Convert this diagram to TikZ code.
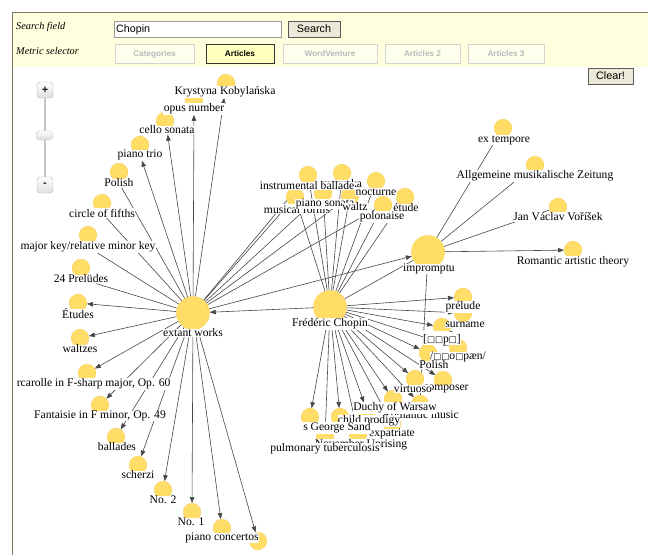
\documentclass[tikz,border=0pt]{standalone}
\usepackage{fontspec}
\setmainfont{Liberation Serif}
\newfontfamily\uisans{Liberation Sans}
\newfontfamily\symfnt{DejaVu Sans}
\usetikzlibrary{arrows.meta}
\pgfdeclarelayer{edges}
\pgfsetlayers{edges,main}
\definecolor{nodey}{RGB}{255,221,102}
\definecolor{nodeb}{RGB}{248,210,90}
\definecolor{edgec}{RGB}{70,70,70}
\definecolor{panel}{RGB}{255,255,221}
\definecolor{btnfill}{RGB}{236,233,216}
\definecolor{actfill}{RGB}{255,255,190}
\definecolor{framec}{RGB}{120,120,95}
\newcommand\labfont{\fontsize{11.6}{12}\selectfont}
\newcommand\tfbox{{\symfnt\fontsize{8.5}{9}\selectfont □}}
\newcommand\tfboxt{\leavevmode\rlap{\raisebox{0.45em}{\hspace{0.05em}\fontsize{9}{9}\selectfont\char"02DC}}{\symfnt\fontsize{8.5}{9}\selectfont □}}
\begin{document}
\begin{tikzpicture}[x=1pt,y=-1pt,
  sm/.style={circle,fill=nodey,draw=nodeb,line width=0.5pt,minimum size=17.5pt,inner sep=0pt},
  bg/.style={circle,fill=nodey,draw=nodeb,line width=0.5pt,minimum size=33pt,inner sep=0pt},
  lab/.style={fill=white,inner xsep=0.4pt,inner ysep=0.4pt,font=\labfont},
  ed/.style={draw=edgec,line width=0.6pt},
  ar/.style={ed,-{Triangle[length=6pt,width=4.5pt]}},
  btn/.style={draw=gray!70!black,fill=btnfill,inner sep=0pt,font=\uisans\fontsize{10.8}{12}\selectfont},
  mbtn/.style={draw=gray!35,fill=panel!50!white,inner sep=0pt,minimum height=19pt,text=gray!55,font=\uisans\bfseries\fontsize{8.2}{10}\selectfont},
  actbtn/.style={mbtn,draw=black!80,line width=0.8pt,fill=actfill,text=black},
  itlab/.style={inner sep=0pt,anchor=west,font=\itshape\fontsize{10.3}{12}\selectfont},
  zbtn/.style={draw=gray!60,rounded corners=3pt,top color=white,bottom color=gray!25,minimum size=16pt,inner sep=0pt,text=gray!20!black,font=\uisans\bfseries\fontsize{11}{11}\selectfont},
  zhandle/.style={draw=gray!50,rounded corners=4pt,top color=white,bottom color=gray!30,minimum width=17pt,minimum height=9pt,inner sep=0pt}
]
\useasboundingbox (0,0) rectangle (648,555);
% ---------- panel ----------
\fill[panel] (12,12) rectangle (648,67);
\draw[framec,line width=1pt] (12.5,555) -- (12.5,12.5) -- (648,12.5);
\node[itlab] (sf) at (16,27) {Search field};
\node[itlab] (ms) at (16,51) {Metric selector};
\node[draw=gray!80,fill=white,minimum width=167pt,minimum height=16pt,inner sep=0pt] (tb) at (197.5,29) {};
\node[anchor=west,inner sep=0pt,font=\uisans\fontsize{10.7}{12}\selectfont] (tbt) at (116,29.5) {Chopin};
\node[btn,minimum width=52pt,minimum height=16pt] (sb) at (314,29) {Search};
\node[mbtn,minimum width=79pt] (b1) at (154.5,54) {Categories};
\node[actbtn,minimum width=68pt] (b2) at (240,54) {Articles};
\node[mbtn,minimum width=94pt] (b3) at (330,54) {WordVenture};
\node[mbtn,minimum width=75pt] (b4) at (422.5,54) {Articles 2};
\node[mbtn,minimum width=76pt] (b5) at (506,54) {Articles 3};
\node[btn,minimum width=45pt,minimum height=16pt] (clr) at (610.5,76) {Clear!};
% ---------- zoom control ----------
\node[zbtn] (zp) at (45,90) {+};
\node[zbtn] (zm) at (45,185) {-};
\node[zhandle] (zh) at (44.5,135.5) {};
% ---------- circles ----------
\node[sm] (kk) at (226,83) {};
\node[sm] (opus) at (194,100) {};
\node[sm] (cello) at (165,121) {};
\node[sm] (ptrio) at (140,145) {};
\node[sm] (polL) at (119,172) {};
\node[sm] (cof) at (102,203) {};
\node[sm] (mkey) at (88,235) {};
\node[sm] (prel) at (81,268) {};
\node[sm] (etud) at (78,303) {};
\node[sm] (waltzes) at (80,338) {};
\node[sm] (barc) at (87,373) {};
\node[sm] (fant) at (100,405) {};
\node[sm] (ball) at (116,437) {};
\node[sm] (scher) at (138,465) {};
\node[sm] (no2) at (163,490) {};
\node[sm] (no1) at (192,512) {};
\node[sm] (hid1) at (258,541) {};
\node[sm] (pconc) at (222,528) {};
\node[bg] (E) at (193,313) {};
\node[bg] (C) at (330,307) {};
\node[bg] (I) at (428,252) {};
\node[sm] (maz) at (342,173) {};
\node[sm] (ib) at (308,175) {};
\node[sm] (mf) at (295,197) {};
\node[sm] (ps) at (323,193) {};
\node[sm] (wz) at (350,196) {};
\node[sm] (noc) at (376,181) {};
\node[sm] (et) at (405,197) {};
\node[sm] (pol) at (383,205) {};
\node[sm] (ext) at (503,128) {};
\node[sm] (amz) at (535,165) {};
\node[sm] (jvv) at (558,207) {};
\node[sm] (rat) at (573,250) {};
\node[sm] (sur) at (463,313) {};
\node[sm] (prl) at (463,297) {};
\node[sm] (ipa1) at (442,327) {};
\node[sm] (ipa2) at (458,348) {};
\node[sm] (polR) at (428,353) {};
\node[sm] (comp) at (443,380) {};
\node[sm] (vir) at (415,379) {};
\node[sm] (rom) at (420,404) {};
\node[sm] (duchy) at (393,399) {};
\node[sm] (child) at (367,411) {};
\node[sm] (expat) at (392,424) {};
\node[sm] (gs) at (340,417) {};
\node[sm] (sgs) at (310,417) {};
\node[sm] (nov) at (358,434) {};
\node[sm] (pul) at (325,438) {};
% ---------- labels ----------
\node[lab] (kk-l) at (225,92) {Krystyna Kobylańska};
\node[lab] (opus-l) at (194,109) {opus number};
\node[lab] (cello-l) at (167,130) {cello sonata};
\node[lab] (ptrio-l) at (140,155) {piano trio};
\node[lab] (polL-l) at (119,183) {Polish};
\node[lab] (cof-l) at (102,213) {circle of fifths};
\node[lab] (mkey-l) at (88,247) {major key/relative minor key};
\node[lab] (prel-l) at (81,279) {24 Prelüdes};
\node[lab] (etud-l) at (78,314) {Études};
\node[lab] (waltzes-l) at (80,349) {waltzes};
\begin{scope}
\clip (17,360) rectangle (250,400);
\node[lab,anchor=east] (barc-l) at (171,384) {Barcarolle in F-sharp major, Op. 60};
\end{scope}
\node[lab] (fant-l) at (100,416) {Fantaisie in F minor, Op. 49};
\node[lab] (ball-l) at (117,447) {ballades};
\node[lab] (scher-l) at (138,475) {scherzi};
\node[lab] (no2-l) at (163,500) {No. 2};
\node[lab] (no1-l) at (191,522) {No. 1};
\node[lab] (pconc-l) at (222,538) {piano concertos};
\node[lab] (E-l) at (193,333) {extant works};
\node[lab] (C-l) at (330,324) {Frédéric Chopin};
\node[lab] (I-l) at (429,269) {impromptu};
\node[lab] (maz-l) at (342,184) {mazurka};
\node[lab] (ib-l) at (307,186) {instrumental ballade};
\node[lab] (mf-l) at (297,209) {musical forms};
\node[lab] (ps-l) at (325,204) {piano sonata};
\node[lab] (wz-l) at (355,207) {waltz};
\node[lab] (noc-l) at (376,192) {nocturne};
\node[lab] (et-l) at (406,208) {étude};
\node[lab] (pol-l) at (382,217) {polonaise};
\node[lab] (ext-l) at (504,140) {ex tempore};
\node[lab] (amz-l) at (535,176) {Allgemeine musikalische Zeitung};
\node[lab] (jvv-l) at (558,217) {Jan Václav Voříšek};
\node[lab] (rat-l) at (573,262) {Romantic artistic theory};
\node[lab] (prl-l) at (463,307) {prélude};
\node[lab] (sur-l) at (465,325) {surname};
\node[lab] (ipa1-l) at (442,338) {[\tfbox\tfbox p\tfboxt]};
\node[lab] (ipa2-l) at (458,357) {/\tfbox\tfbox o\tfbox pæn/};
\node[lab] (polR-l) at (434,365) {Polish};
\node[lab] (comp-l) at (446,389) {composer};
\node[lab] (vir-l) at (413,389) {virtuoso};
\node[lab] (rom-l) at (421,415) {Romantic music};
\node[lab] (child-l) at (369,421) {child prodigy};
\node[lab] (duchy-l) at (395,408) {Duchy of Warsaw};
\node[lab] (nov-l) at (361,445) {November Uprising};
\node[lab] (expat-l) at (392,434) {expatriate};
\node[lab] (gs-l) at (337,428) {s George Sand};
\node[lab] (pul-l) at (325,449) {pulmonary tuberculosis};
% ---------- edges ----------
\begin{pgfonlayer}{edges}
\draw[gray!45,line width=1.5pt] (zp) -- (zm);
\foreach \t in {kk-l,opus-l,cello-l,ptrio-l} \draw[ar] (E) -- (\t);
\foreach \t in {polL-l,cof-l,mkey-l,prel-l} \draw[ed] (E) -- (\t);
\foreach \t in {etud,waltzes,barc,fant,ball,scher,no2,no1,pconc,hid1,I} \draw[ar] (E) -- (\t);
\foreach \t in {ib,mf,ps,wz,pol} \draw[ed] (E) -- (\t);
\draw[ar] (C) -- (E);
\foreach \t in {I,ib,maz,mf,ps,wz,noc,pol,et} \draw[ed] (C) -- (\t);
\foreach \t in {prl,sur,ipa1,ipa2,polR,vir,comp,duchy,rom,child,expat,gs,sgs,pul,nov} \draw[ar] (C) -- (\t);
\foreach \t in {ext,amz,jvv} \draw[ed] (I) -- (\t);
\draw[ar] (I) -- (rat);
\draw[ed] (I) -- (rom);
\end{pgfonlayer}
\end{tikzpicture}
\end{document}
